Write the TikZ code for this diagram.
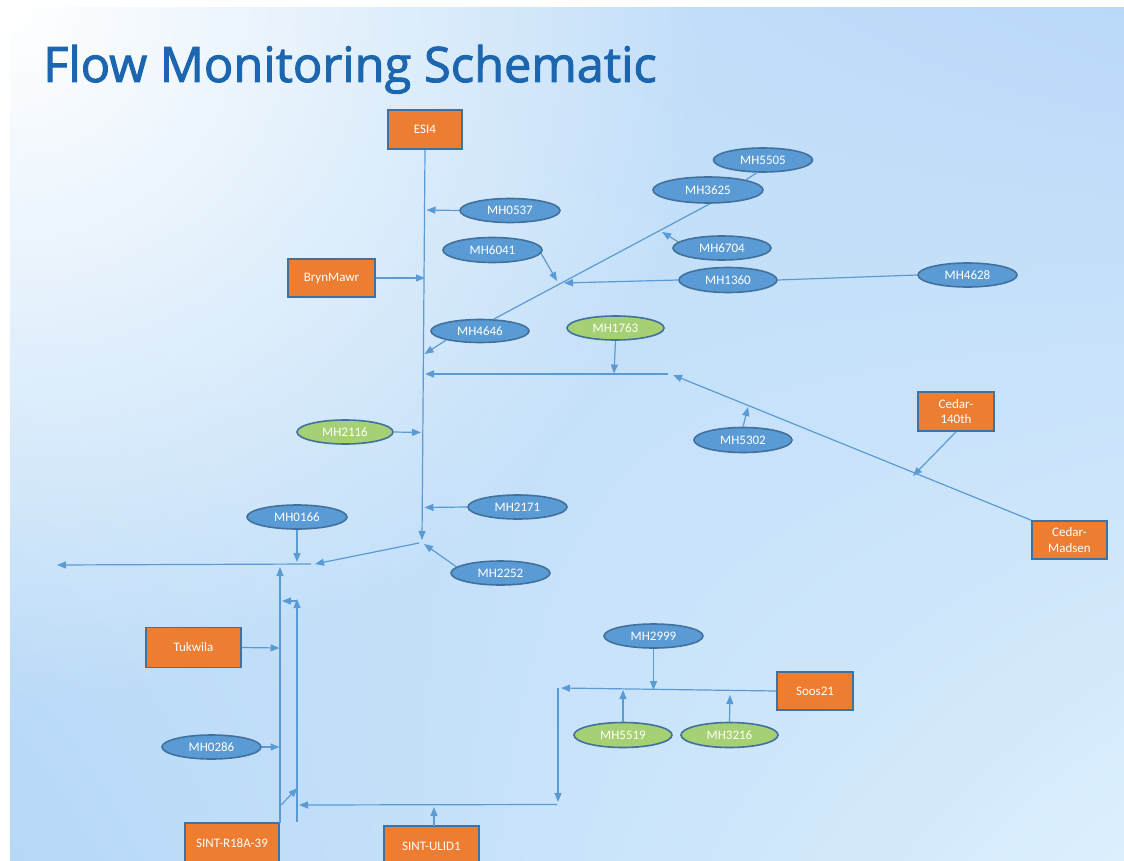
\documentclass[tikz,border=0pt]{standalone}
\usepackage{fontspec}
\setmainfont{Carlito}
\newfontfamily\titlefont[FakeBold=2]{Open Sans}
\usetikzlibrary{arrows.meta,shapes.geometric,shadings,fadings}
\definecolor{bgTL}{HTML}{CAE4FA}
\definecolor{bgTR}{HTML}{BAD9F8}
\definecolor{bgBL}{HTML}{B6D8F7}
\definecolor{bgBR}{HTML}{DCEFFD}
\definecolor{lineblue}{HTML}{5B9BD5}
\definecolor{ellblue}{HTML}{5B9BD5}
\definecolor{edgeblue}{HTML}{41719C}
\definecolor{ellgreen}{RGB}{165,208,115}
\definecolor{boxorange}{HTML}{ED7D31}
\definecolor{titleblue}{HTML}{1C66B0}
\tikzfading[name=glow,inner color=transparent!0,outer color=transparent!100]
\begin{document}
\begin{tikzpicture}[x=1pt,y=-1pt,
  mh/.style={ellipse,draw=edgeblue,line width=1.6pt,fill=ellblue,inner sep=0pt,
    minimum width=99pt,minimum height=24pt,text=white,font=\fontsize{13}{14}\selectfont},
  mhg/.style={mh,fill=ellgreen},
  station/.style={rectangle,draw=edgeblue,line width=1.6pt,fill=boxorange,inner sep=0pt,
    minimum width=76pt,minimum height=39pt,text=white,align=center,font=\fontsize{13}{15.5}\selectfont},
  flow/.style={draw=lineblue,line width=1.2pt,-{Triangle[length=9pt,width=7pt]}},
  plain/.style={draw=lineblue,line width=1.2pt}]
\useasboundingbox (0,0) rectangle (1124,861);
\clip (0,0) rectangle (1124,861);
\fill[white] (0,0) rectangle (1124,861);
\begin{scope}
\clip (10,8) rectangle (1124,861);
\shade[upper left=bgTL,upper right=bgTR,lower left=bgBL,lower right=bgBR] (10,8) rectangle (1124,861);
\fill[white,path fading=glow,fit fading=true] (-690,-692) rectangle (710,708);
\end{scope}

\node[anchor=base west,inner sep=0pt,text=titleblue,font=\titlefont\fontsize{48.8}{48.8}\selectfont] (title) at (43,82) {Flow Monitoring Schematic};

% stations
\node[station,minimum width=74pt] (esi) at (425,129.5) {ESI4};
\node[station,minimum width=87pt,minimum height=38pt] (bryn) at (331.5,278) {BrynMawr};
\node[station] (c140) at (956,411.5) {Cedar-\\140th};
\node[station,minimum width=75pt,minimum height=38pt] (cmad) at (1069.5,540) {Cedar-\\Madsen};
\node[station,minimum width=95pt,minimum height=40pt] (tuk) at (193.5,647.5) {Tukwila};
\node[station,minimum height=38pt] (soos) at (815,691) {Soos21};
\node[station,minimum width=94pt,minimum height=40pt] (r18a) at (232,843) {SINT-R18A-39};
\node[station,minimum width=95pt,minimum height=40pt] (ulid) at (431.5,846) {SINT-ULID1};

% manholes
\node[mh] (mh5505) at (763,160) {MH5505};
\node[mh,minimum width=110pt,minimum height=26pt] (mh3625) at (708,190) {MH3625};
\node[mh,minimum width=100pt] (mh0537) at (510,210.5) {MH0537};
\node[mh,minimum height=25pt] (mh6041) at (492.5,250) {MH6041};
\node[mh,minimum width=98pt] (mh6704) at (722,248) {MH6704};
\node[mh,minimum width=98pt,minimum height=25pt] (mh1360) at (728,280) {MH1360};
\node[mh] (mh4628) at (967.5,275) {MH4628};
\node[mh,minimum width=98pt,minimum height=23pt] (mh4646) at (480,331) {MH4646};
\node[mhg,minimum width=97pt] (mh1763) at (615.5,328) {MH1763};
\node[mhg,minimum width=96pt] (mh2116) at (345,432) {MH2116};
\node[mh,minimum width=98pt,minimum height=25pt] (mh5302) at (743,440) {MH5302};
\node[mh] (mh2171) at (517.5,507) {MH2171};
\node[mh,minimum width=100pt] (mh0166) at (297,517) {MH0166};
\node[mh] (mh2252) at (500.5,573) {MH2252};
\node[mh] (mh0286) at (211.5,747) {MH0286};
\node[mh] (mh2999) at (653.5,636) {MH2999};
\node[mhg,minimum width=98pt,minimum height=25pt] (mh5519) at (623,735) {MH5519};
\node[mhg,minimum width=97pt,minimum height=25pt] (mh3216) at (729.5,735) {MH3216};

% junction coordinates
\coordinate (tTrunk) at (422,540);
\coordinate (t0537) at (426.5,210);
\coordinate (tBryn) at (425,278);
\coordinate (t6041) at (557,281);
\coordinate (t1360) at (564,283);
\coordinate (t6704) at (662,232);
\coordinate (t4646) at (424.5,354);
\coordinate (t1763) at (614,373.5);
\coordinate (hA) at (668,374);
\coordinate (hB) at (425,374);
\coordinate (tCM) at (673,375);
\coordinate (tC140) at (913,476);
\coordinate (t5302) at (748,407);
\coordinate (t2116) at (421,432.5);
\coordinate (t2171) at (424.5,507.5);
\coordinate (t2252) at (424,544);
\coordinate (jA) at (419,543);
\coordinate (jB) at (315,564);
\coordinate (oA) at (311,564);
\coordinate (outlet) at (57,565);
\coordinate (t0166) at (297,562);
\coordinate (vAb) at (280,823);
\coordinate (vAt) at (280,567);
\coordinate (tTuk) at (279.5,648);
\coordinate (t0286) at (279.5,747);
\coordinate (rA) at (281,805);
\coordinate (rB) at (297.5,788);
\coordinate (vBb) at (297,822);
\coordinate (vBt) at (297,599);
\coordinate (sA) at (297,601);
\coordinate (sB) at (282,601);
\coordinate (bA) at (557,804.5);
\coordinate (bB) at (299,805);
\coordinate (uA) at (434,826);
\coordinate (uB) at (434,807);
\coordinate (vCt) at (558,688);
\coordinate (vCb) at (558,802);
\coordinate (tSoos) at (561,688);
\coordinate (t2999) at (653.5,690);
\coordinate (t5519) at (623,690);
\coordinate (t3216) at (730,695);

% upper trunk and tributaries
\draw[flow] (esi.south) -- (tTrunk);
\draw[flow] (mh0537.west) -- (t0537);
\draw[flow] (bryn.east) -- (tBryn);
\draw[flow] (mh6041.-4) -- (t6041);
\draw[flow] (mh1360.west) -- (t1360);
\draw[plain] (mh4628.west) -- (mh1360.east);
\draw[flow] (mh6704.172) -- (t6704);
\draw[plain] (mh5505.245) -- (mh3625.15);
\draw[plain] (mh3625.-82) -- (mh4646.41);
\draw[flow] (mh4646.195) -- (t4646);
\draw[flow] (mh1763.south) -- (t1763);
\draw[flow] (hA) -- (hB);
\draw[flow] (cmad.north west) -- (tCM);
\draw[flow] (c140.south) -- (tC140);
\draw[flow] (mh5302.north) -- (t5302);
\draw[flow] (mh2116.east) -- (t2116);
\draw[flow] (mh2171.west) -- (t2171);
\draw[flow] (mh2252.172) -- (t2252);
\draw[flow] (jA) -- (jB);
\draw[flow] (oA) -- (outlet);
\draw[flow] (mh0166.south) -- (t0166);

% lower branches
\draw[flow] (vAb) -- (vAt);
\draw[flow] (tuk.east) -- (tTuk);
\draw[flow] (mh0286.east) -- (t0286);
\draw[flow] (rA) -- (rB);
\draw[flow] (vBb) -- (vBt);
\draw[flow] (sA) -- (sB);
\draw[flow] (bA) -- (bB);
\draw[flow] (uA) -- (uB);
\draw[flow] (vCt) -- (vCb);
\draw[flow] (soos.west) -- (tSoos);
\draw[flow] (mh2999.south) -- (t2999);
\draw[flow] (mh5519.north) -- (t5519);
\draw[flow] (mh3216.north) -- (t3216);
\end{tikzpicture}
\end{document}
